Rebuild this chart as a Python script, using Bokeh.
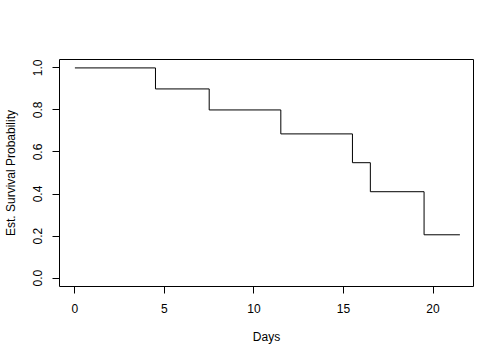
from bokeh.plotting import figure
from bokeh.models import Range1d, FixedTicker, PrintfTickFormatter
from bokeh.embed import file_html
from bokeh.resources import INLINE

days = [0, 4.5, 7.5, 11.5, 15.5, 16.5, 19.5, 21.5]
surv = [1.0, 0.9, 0.8, 0.686, 0.549, 0.411, 0.206, 0.206]
x_ticks = [0, 5, 10, 15, 20]
y_ticks = [0.0, 0.2, 0.4, 0.6, 0.8, 1.0]

FONT = "Liberation Sans"

p = figure(width=504, height=360, output_backend="svg",
           toolbar_location=None,
           x_range=Range1d(-0.86, 22.26), y_range=Range1d(-0.04, 1.04))
p.min_border_left = 59
p.min_border_top = 59
p.min_border_right = 31
p.min_border_bottom = 74

p.step(days, surv, mode="after", line_color="black", line_width=1)

p.grid.visible = False
p.outline_line_color = "black"
p.outline_line_width = 1
p.outline_line_alpha = 1
p.background_fill_color = "white"
p.border_fill_color = "white"

for ax, ticks in ((p.xaxis, x_ticks), (p.yaxis, y_ticks)):
    ax.ticker = FixedTicker(ticks=ticks)
    ax.axis_line_color = None
    ax.major_tick_line_color = "black"
    ax.major_tick_out = 7
    ax.major_tick_in = 0
    ax.minor_tick_line_color = None
    ax.major_label_text_font = FONT
    ax.major_label_text_font_size = "12px"
    ax.major_label_text_color = "black"
    ax.axis_label_text_font = FONT
    ax.axis_label_text_font_size = "12px"
    ax.axis_label_text_font_style = "normal"
    ax.axis_label_text_color = "black"

p.yaxis.formatter = PrintfTickFormatter(format="%.1f")
p.xaxis.axis_label = "Days"
p.yaxis.axis_label = "Est. Survival Probability"
p.yaxis.major_label_orientation = "parallel"
p.xaxis.major_label_standoff = 10
p.yaxis.major_label_standoff = 10
p.xaxis.axis_label_standoff = 14
p.yaxis.axis_label_standoff = 13

open("out.html", "w").write(file_html(p, INLINE))
